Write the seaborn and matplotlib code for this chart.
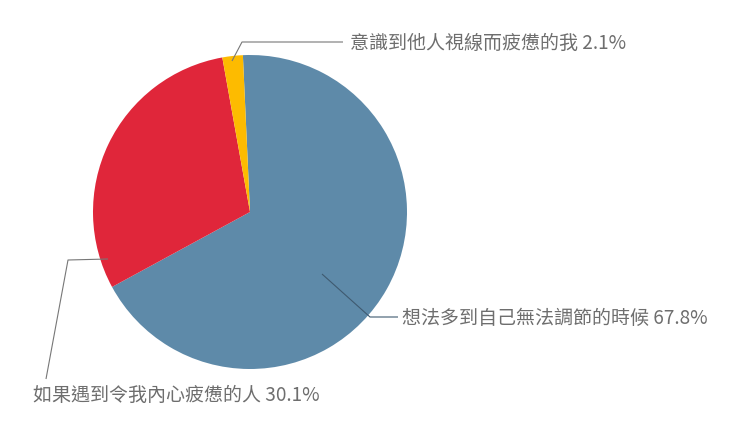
import matplotlib
matplotlib.use("Agg")
import matplotlib.pyplot as plt
import seaborn as sns

sns.set_theme(style="white")
plt.rcParams['font.family'] = ['Noto Sans CJK TC', 'DejaVu Sans']

categories = ["想法多到自己無法調節的時候", "如果遇到令我內心疲憊的人", "意識到他人視線而疲憊的我"]
values = [67.8, 30.1, 2.1]
colors = ["#5e8aa9", "#e0263a", "#fdbb00"]

W, H = 740, 439
fig = plt.figure(figsize=(W / 100, H / 100), dpi=100)
cx, cy, r = 250, 213, 157
ax = fig.add_axes([(cx - r) / W, (H - cy - r) / H, 2 * r / W, 2 * r / H])
ax.pie(values, colors=colors, startangle=92.6, counterclock=False, radius=1,
       wedgeprops=dict(linewidth=0))
ax.set_xlim(-1, 1)
ax.set_ylim(-1, 1)
ax.set_axis_off()

def px(x, y):
    return ((x - cx) / r, (cy - y) / r)

# leader lines (pixel layout) and labels
leaders = [
    # blue
    ([(322, 275), (370, 318), (398, 318)], (402, 318), "#3f5a70"),
    # red
    ([(108, 260), (68, 261), (46, 380)], (33, 395), "#777777"),
    # yellow
    ([(232, 62), (242, 43), (343, 43)], (350, 43), "#777777"),
]
for (pts, tpos, lc), cat, val in zip(leaders, categories, values):
    dp = [px(*p) for p in pts]
    ax.plot([p[0] for p in dp], [p[1] for p in dp], color=lc, lw=0.8,
            clip_on=False, solid_capstyle="butt")
    tx, ty = px(*tpos)
    ax.text(tx, ty, f"{cat} {val}%", ha="left", va="center", fontsize=13.7,
            color="#6e6e6e", style="italic", fontweight="light", clip_on=False)

fig.savefig("out.png", dpi=100, facecolor="white")
